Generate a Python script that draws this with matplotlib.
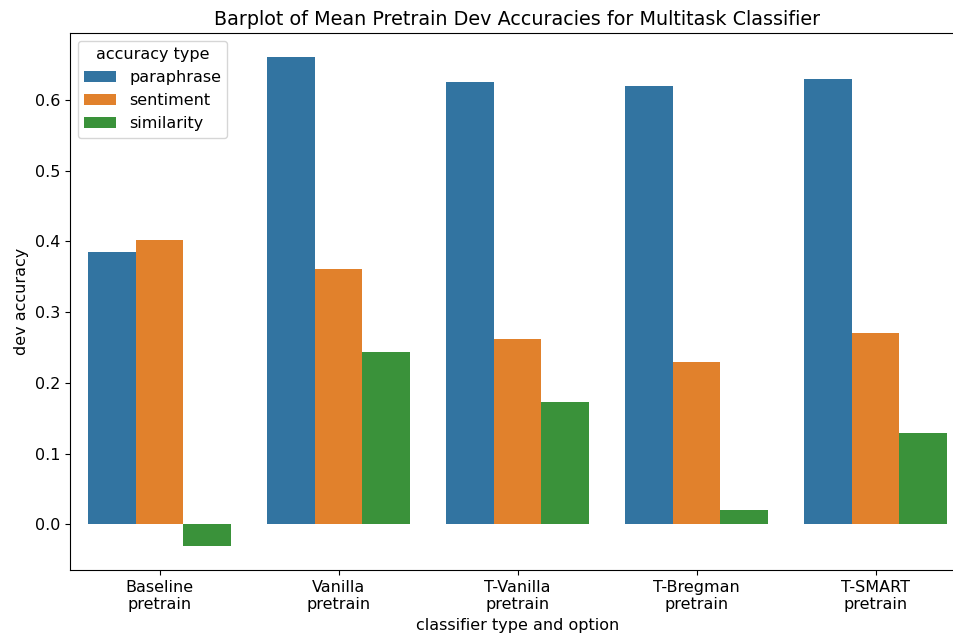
import matplotlib
matplotlib.use("Agg")
import matplotlib.pyplot as plt
import seaborn as sns
import pandas as pd

# mean dev accuracies
classifiers = ["Baseline\npretrain", "Vanilla\npretrain", "T-Vanilla\npretrain",
               "T-Bregman\npretrain", "T-SMART\npretrain"]
acc_types = ["paraphrase", "sentiment", "similarity"]
paraphrase = [0.385, 0.660, 0.625, 0.620, 0.630]
sentiment = [0.402, 0.361, 0.262, 0.230, 0.270]
similarity = [-0.030, 0.243, 0.173, 0.020, 0.129]

rows = []
for i, c in enumerate(classifiers):
    rows.append([c, "paraphrase", paraphrase[i]])
    rows.append([c, "sentiment", sentiment[i]])
    rows.append([c, "similarity", similarity[i]])
df = pd.DataFrame(rows, columns=["classifier type and option", "accuracy type", "dev accuracy"])

plt.rcParams['font.size'] = 11.5
plt.rcParams['axes.titlesize'] = 13.8

fig = plt.figure(figsize=(9.54, 6.41), dpi=100)
ax = fig.add_axes([70 / 954, 1 - 570 / 641, (965 - 70) / 954, (570 - 33) / 641])
sns.barplot(data=df, x="classifier type and option", y="dev accuracy",
            hue="accuracy type", hue_order=acc_types, ax=ax)
ax.set_title("Barplot of Mean Pretrain Dev Accuracies for Multitask Classifier")
ax.legend(title="accuracy type", loc="upper left")

fig.savefig("out.png", dpi=100)
